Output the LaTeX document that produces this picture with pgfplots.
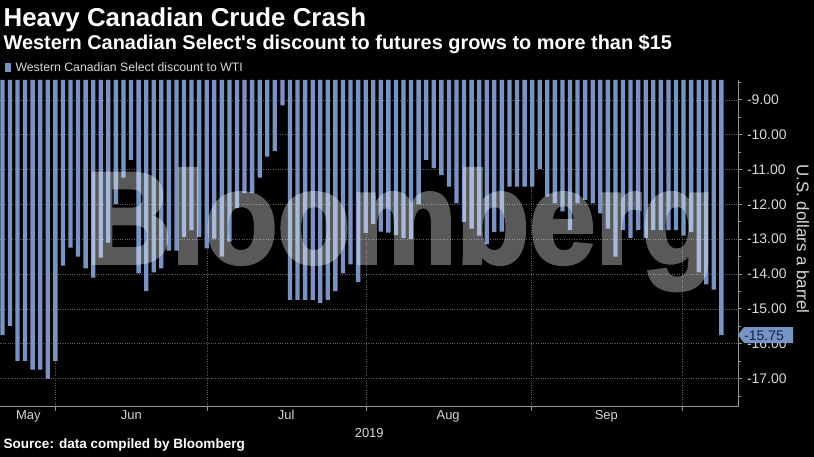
\documentclass[border=0pt]{standalone}
\usepackage{fontspec}
\setmainfont{Liberation Sans}
\newfontfamily\plainfont{Liberation Sans}
\newfontfamily\wmfont{Liberation Sans Bold}[FakeBold=3]
\usepackage{pgfplots}
\usepackage{graphicx}
\pgfplotsset{compat=1.18}
\definecolor{barblue}{RGB}{120,148,196}
\definecolor{axisgray}{RGB}{150,150,150}
\definecolor{gridgray}{RGB}{95,95,95}
\definecolor{lbl}{RGB}{215,215,215}
\definecolor{navy}{RGB}{20,35,70}
\pgfplotstableread{
x y
1 -15.75
2 -15.49
3 -16.49
4 -16.49
5 -16.74
6 -16.74
7 -17.00
8 -16.49
9 -13.76
10 -13.24
11 -13.50
12 -13.84
13 -14.10
14 -13.53
15 -13.10
16 -11.99
17 -11.23
18 -10.72
19 -13.98
20 -14.49
21 -13.95
22 -13.84
23 -13.33
24 -13.33
25 -12.94
26 -12.74
27 -12.93
28 -13.26
29 -12.98
30 -13.50
31 -13.07
32 -12.11
33 -11.68
34 -11.68
35 -11.23
36 -10.63
37 -10.47
38 -9.16
39 -14.74
40 -14.74
41 -14.74
42 -14.74
43 -14.83
44 -14.74
45 -14.49
46 -13.98
47 -13.72
48 -14.23
49 -12.82
50 -12.57
51 -12.78
52 -12.81
53 -12.88
54 -12.97
55 -12.99
56 -12.00
57 -10.72
58 -10.96
59 -11.16
60 -11.49
61 -11.97
62 -12.50
63 -12.70
64 -12.90
65 -13.15
66 -12.80
67 -12.78
68 -11.49
69 -11.49
70 -11.49
71 -11.49
72 -10.99
73 -11.78
74 -11.97
75 -12.20
76 -12.74
77 -11.97
78 -11.87
79 -11.97
80 -12.26
81 -12.70
82 -13.50
83 -12.74
84 -12.97
85 -12.74
86 -12.97
87 -12.74
88 -12.74
89 -12.74
90 -12.74
91 -12.90
92 -12.80
93 -13.95
94 -14.30
95 -14.45
96 -15.75
}\wcs
\begin{document}
\begin{tikzpicture}[x=1bp,y=1bp]
\fill[black] (0bp,0bp) rectangle (814bp,457bp);
\begin{axis}[
  at={(0bp,50bp)}, anchor=south west,
  scale only axis, width=738bp, height=327bp,
  xmin=0.74, xmax=98.2, ymin=-17.81, ymax=-8.43,
  axis x line*=bottom, axis y line*=right,
  axis line style={draw=axisgray, line width=0.8bp},
  xtick={8,28.08,49.08,70.88,90.83}, xticklabels={},
  xtick align=inside, ytick align=outside,
  xmajorgrids, ymajorgrids,
  grid style={draw=gridgray, dotted, line width=0.6bp},
  ytick={-17,-16,-15,-14,-13,-12,-11,-10,-9},
  yticklabels={-17.00,-16.00,-15.00,-14.00,-13.00,-12.00,-11.00,-10.00,-9.00},
  minor ytick={-17.5,-16.5,-15.5,-14.5,-13.5,-12.5,-11.5,-10.5,-9.5,-8.5},
  tick style={draw=axisgray, line width=0.8bp},
  major tick length=4bp, minor tick length=3bp,
  y tick label style={font=\fontsize{14}{14}\selectfont, text=lbl, anchor=west, xshift=1.5bp},
  x tick label style={font=\fontsize{13}{13}\selectfont, text=lbl},
  extra x ticks={4.43,18.04,38.5,59.9,80.8},
  extra x tick labels={May,Jun,Jul,Aug,Sep},
  extra x tick style={grid=none, major tick length=0pt},
  xlabel={2019},
  xlabel style={font=\fontsize{13}{13}\selectfont, text=lbl, yshift=4bp},
  ybar, bar width=0.57, bar shift=0pt,
]
\addplot[fill=barblue, draw=none] table[x=x,y=y] {\wcs};
\coordinate (cl) at (axis cs:98.2,-15.75);
\end{axis}
% watermark
\begin{scope}[transparency group, opacity=0.35]
\node[anchor=base west, inner sep=0, text=white] at (85bp,194bp)
  {\scalebox{0.9}[0.98]{\fontsize{133}{133}\wmfont Bloomberg}};
\end{scope}
% callout
\fill[barblue] (cl) -- ++(6bp,8bp) -- ++(49bp,0bp) -- ++(0bp,-16bp) -- ++(-49bp,0bp) -- cycle;
\node[anchor=west, inner sep=0, text=navy, font=\fontsize{14}{14}\selectfont] at ([xshift=6bp,yshift=-0.5bp]cl) {-15.75};
% y label
\node[rotate=-90, inner sep=0, text=lbl, font=\fontsize{17}{17}\selectfont] at (803bp,218bp) {U.S. dollars a barrel};
% titles
\node[anchor=base west, inner sep=0, text=white, font=\fontsize{26}{26}\selectfont\bfseries] at (3bp,430bp) {Heavy Canadian Crude Crash};
\node[anchor=base west, inner sep=0, text=white, font=\fontsize{20}{20}\plainfont\bfseries] at (3bp,407bp) {Western Canadian Select's discount to futures grows to more than \$15};
% legend
\fill[barblue] (5bp,385bp) rectangle (11bp,394bp);
\node[anchor=base west, inner sep=0, text=lbl, font=\fontsize{12.3}{12}\selectfont] at (15bp,385bp) {Western Canadian Select discount to WTI};
% source
\node[anchor=base west, inner sep=0, text=white, font=\fontsize{13.6}{14}\selectfont\bfseries] at (3bp,8bp) {Source: data compiled by Bloomberg};
\end{tikzpicture}
\end{document}
